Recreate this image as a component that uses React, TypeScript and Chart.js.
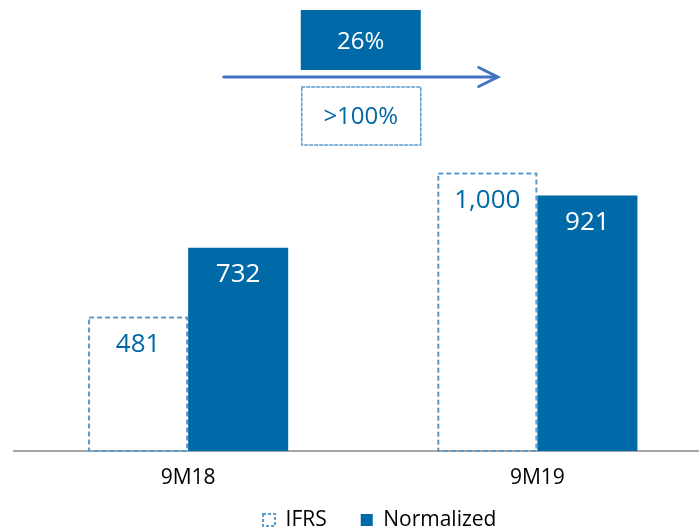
import React, { useEffect, useRef } from "react";
import { Chart, registerables } from "chart.js";

Chart.register(...registerables);

const categories = ["9M18", "9M19"];
const ifrsValues = [481, 1000];
const normalizedValues = [732, 921];
const seriesNames = ["IFRS", "Normalized"];
const growthNormalized = "26%";
const growthIfrs = ">100%";

const BLUE = "#0069a7";
const DASH_BLUE = "#5b9bcb";
const ARROW = "#4472c4";
const FONT = "'Open Sans', 'Noto Sans', sans-serif";

const CANVAS_W = 712;
const CANVAS_H = 531;

const extrasPlugin = {
  id: "extras",
  afterLayout(chart: any) {
    const lg = chart.legend;
    if (lg) {
      const dx = 17;
      const dy = 475.5 - lg.top;
      lg.left += dx;
      lg.right += dx;
      lg.top += dy;
      lg.bottom += dy;
    }
  },
  afterDatasetsDraw(chart: any) {
    const ctx = chart.ctx;
    ctx.save();
    // dashed outline for IFRS bars
    const m0 = chart.getDatasetMeta(0);
    ctx.setLineDash([5, 3]);
    ctx.lineWidth = 2;
    ctx.strokeStyle = DASH_BLUE;
    m0.data.forEach((el: any) => {
      const left = el.x - el.width / 2;
      ctx.strokeRect(left + 1, el.y, el.width - 2, el.base - el.y);
    });
    ctx.setLineDash([]);
    // value labels
    ctx.textAlign = "center";
    ctx.textBaseline = "middle";
    chart.data.datasets.forEach((ds: any, di: number) => {
      const meta = chart.getDatasetMeta(di);
      meta.data.forEach((el: any, i: number) => {
        const v = ds.data[i] as number;
        ctx.font = `26px ${FONT}`;
        ctx.fillStyle = di === 0 ? BLUE : "#ffffff";
        ctx.fillText(v.toLocaleString("en-US"), el.x, el.y + 27);
      });
    });
    ctx.restore();
  },
  afterDraw(chart: any) {
    const ctx = chart.ctx;
    const xs = chart.scales.x;
    const mid = (xs.getPixelForValue(0) + xs.getPixelForValue(1)) / 2;
    const cx = mid - 2;
    ctx.save();
    // filled growth box
    ctx.fillStyle = BLUE;
    ctx.fillRect(cx - 60, 10, 120, 60);
    ctx.font = `24px ${FONT}`;
    ctx.textAlign = "center";
    ctx.textBaseline = "middle";
    ctx.fillStyle = "#ffffff";
    ctx.fillText(growthNormalized, cx, 42);
    // arrow
    ctx.strokeStyle = ARROW;
    ctx.lineWidth = 3;
    ctx.lineCap = "round";
    ctx.beginPath();
    ctx.moveTo(cx - 137, 77);
    ctx.lineTo(cx + 136, 77);
    ctx.stroke();
    ctx.beginPath();
    ctx.moveTo(cx + 118, 67.5);
    ctx.lineTo(cx + 137, 77);
    ctx.lineTo(cx + 118, 86.5);
    ctx.stroke();
    // dashed growth box
    ctx.setLineDash([3, 2]);
    ctx.lineWidth = 1.5;
    ctx.strokeStyle = DASH_BLUE;
    ctx.strokeRect(cx - 59, 87, 119, 58);
    ctx.setLineDash([]);
    ctx.fillStyle = BLUE;
    ctx.fillText(growthIfrs, cx, 117);
    ctx.restore();
  },
};

export default function App() {
  const ref = useRef<HTMLCanvasElement | null>(null);

  useEffect(() => {
    if (!ref.current) return;
    const chart = new Chart(ref.current, {
      type: "bar",
      data: {
        labels: categories,
        datasets: [
          {
            label: seriesNames[0],
            data: ifrsValues,
            backgroundColor: "rgba(255,255,255,0)",
            borderWidth: 0,
            categoryPercentage: 0.573,
            barPercentage: 1,
          },
          {
            label: seriesNames[1],
            data: normalizedValues,
            backgroundColor: BLUE,
            borderWidth: 0,
            categoryPercentage: 0.573,
            barPercentage: 1,
          },
        ],
      },
      options: {
        responsive: false,
        animation: false,
        devicePixelRatio: 1,
        layout: { padding: { left: 13.5, right: 0, top: 0, bottom: -35 } },
        scales: {
          x: {
            grid: { display: true, drawOnChartArea: false, drawTicks: false, color: "rgba(0,0,0,0)" },
            border: { display: true, color: "#a6a6a6", width: 2 },
            ticks: { color: "#000000", font: { family: FONT, size: 21 }, padding: 14 },
            afterFit: (s: any) => {
              s.height = 50;
            },
          },
          y: {
            display: false,
            min: 0,
            max: 1625,
          },
        },
        plugins: {
          tooltip: { enabled: false },
          legend: {
            display: true,
            position: "bottom",
            labels: {
              font: { family: FONT, size: 21 },
              color: "#000000",
              boxWidth: 12,
              boxHeight: 12,
              padding: 34,
              generateLabels: () => [
                {
                  text: seriesNames[0],
                  fillStyle: "#ffffff",
                  strokeStyle: DASH_BLUE,
                  lineWidth: 2,
                  lineDash: [3, 2],
                  hidden: false,
                  datasetIndex: 0,
                  fontColor: "#000000",
                },
                {
                  text: seriesNames[1],
                  fillStyle: BLUE,
                  strokeStyle: BLUE,
                  lineWidth: 0,
                  hidden: false,
                  datasetIndex: 1,
                  fontColor: "#000000",
                },
              ],
            },
          },
        },
      },
      plugins: [extrasPlugin],
    });
    return () => chart.destroy();
  }, []);

  return (
    <div
      style={{
        position: "fixed",
        left: 0,
        top: 0,
        width: 699,
        height: 531,
        overflow: "hidden",
        background: "#ffffff",
      }}
    >
      <canvas ref={ref} width={CANVAS_W} height={CANVAS_H} style={{ width: CANVAS_W, height: CANVAS_H, display: "block" }} />
    </div>
  );
}
